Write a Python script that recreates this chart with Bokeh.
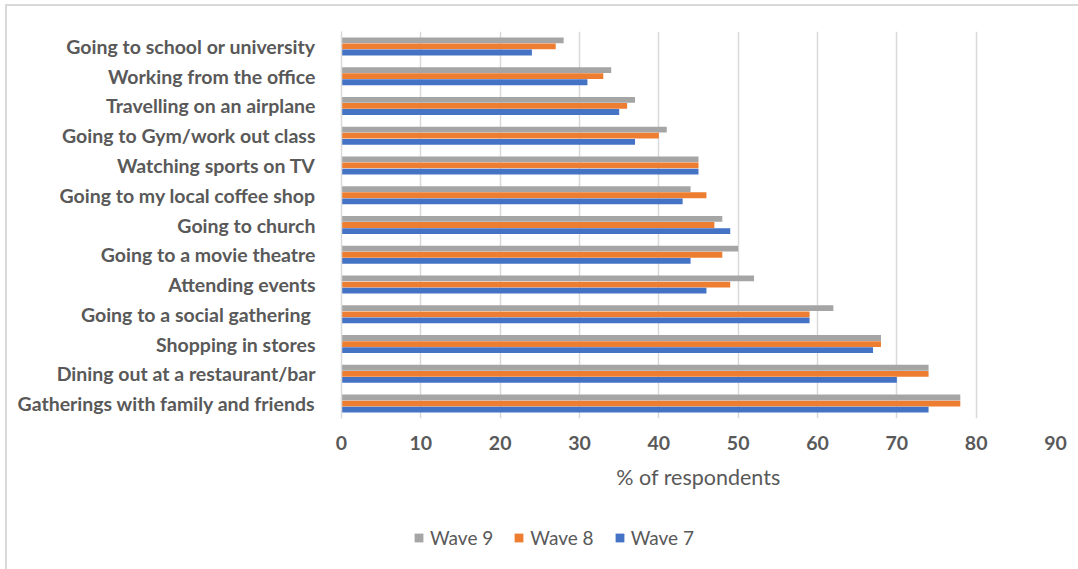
from bokeh.plotting import figure
from bokeh.layouts import column
from bokeh.models import FactorRange, Range1d, ColumnDataSource, Legend, LegendItem, FixedTicker
from bokeh.transform import dodge
from bokeh.embed import file_html
from bokeh.resources import INLINE

# Activities, listed top to bottom as shown
categories = [
    "Going to school or university",
    "Working from the office",
    "Travelling on an airplane",
    "Going to Gym/work out class",
    "Watching sports on TV",
    "Going to my local coffee shop",
    "Going to church",
    "Going to a movie theatre",
    "Attending events",
    "Going to a social gathering ",
    "Shopping in stores",
    "Dining out at a restaurant/bar",
    "Gatherings with family and friends",
]

wave9 = [28, 34, 37, 41, 45, 44, 48, 50, 52, 62, 68, 74, 78]
wave8 = [27, 33, 36, 40, 45, 46, 47, 48, 49, 59, 68, 74, 78]
wave7 = [24, 31, 35, 37, 45, 43, 49, 44, 46, 59, 67, 70, 74]

series_names = ["Wave 9", "Wave 8", "Wave 7"]
series_colors = ["#A5A5A5", "#ED7D31", "#4472C4"]

x_ticks = [0, 10, 20, 30, 40, 50, 60, 70, 80, 90]

src = ColumnDataSource(data=dict(cat=categories, w9=wave9, w8=wave8, w7=wave7))

TEXT = "#595959"
GRID = "#D9D9D9"
FONT = "Lato"

p = figure(
    width=1071, height=510,
    y_range=FactorRange(factors=list(reversed(categories)), range_padding=0),
    x_range=Range1d(0, 90),
    output_backend="svg", toolbar_location=None,
    min_border_left=334, min_border_right=23, min_border_top=25, min_border_bottom=98,
)
p.outline_line_color = None
p.background_fill_color = "white"
p.border_fill_color = "white"

bh = 0.195
offsets = [0.205, 0.0, -0.205]
for col, off, color in zip(["w9", "w8", "w7"], offsets, series_colors):
    p.hbar(y=dodge("cat", off, range=p.y_range), right=col, left=0, height=bh,
           source=src, fill_color=color, line_color=None)

# Category axis
p.yaxis.axis_line_color = GRID
p.yaxis.axis_line_width = 1.5
p.yaxis.major_tick_line_color = None
p.yaxis.minor_tick_line_color = None
p.yaxis.major_label_standoff = 20
p.yaxis.major_label_text_font = FONT
p.yaxis.major_label_text_font_style = "bold"
p.yaxis.major_label_text_font_size = "19.5px"
p.yaxis.major_label_text_color = TEXT

# Value axis
p.xaxis.ticker = FixedTicker(ticks=x_ticks)
p.xaxis.axis_line_color = None
p.xaxis.major_tick_line_color = None
p.xaxis.minor_tick_line_color = None
p.xaxis.major_label_standoff = 11
p.xaxis.major_label_text_font = FONT
p.xaxis.major_label_text_font_style = "bold"
p.xaxis.major_label_text_font_size = "19.5px"
p.xaxis.major_label_text_color = TEXT
p.xaxis.axis_label = "% of respondents"
p.xaxis.axis_label_text_font = FONT
p.xaxis.axis_label_text_font_style = "normal"
p.xaxis.axis_label_text_font_size = "21.5px"
p.xaxis.axis_label_text_color = TEXT
p.xaxis.axis_label_standoff = 11

p.xgrid.grid_line_color = GRID
p.xgrid.grid_line_width = 1.5
p.ygrid.grid_line_color = None

# Legend strip underneath the chart (its frame lines up with the chart frame)
lg = figure(
    width=1071, height=53,
    x_range=Range1d(0, 1), y_range=Range1d(0, 1),
    output_backend="svg", toolbar_location=None,
    min_border=0,
)
lg.axis.visible = False
lg.grid.visible = False
lg.outline_line_color = None
lg.border_fill_color = "white"

items = []
for name, color in zip(series_names, series_colors):
    r = lg.quad(left=[-10], right=[-9], bottom=[-10], top=[-9],
                fill_color=color, line_color=None)
    items.append(LegendItem(label=name, renderers=[r]))

legend = Legend(
    items=items,
    orientation="horizontal",
    location=(72, 20),
    padding=0, margin=0, spacing=20,
    border_line_color=None, background_fill_alpha=0,
    glyph_width=11, glyph_height=11, label_standoff=6, label_height=11,
    label_text_font=FONT, label_text_font_size="19px", label_text_color=TEXT,
    label_text_baseline="middle",
)
lg.add_layout(legend, "center")

layout = column(p, lg, spacing=0)
layout.margin = (4, 0, 0, 5)
layout.styles = {"border-left": "2px solid #D9D9D9", "border-top": "2px solid #D9D9D9"}

open("out.html", "w").write(file_html(layout, INLINE))
